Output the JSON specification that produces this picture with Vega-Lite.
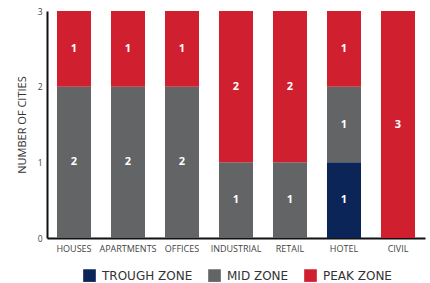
{
  "$schema": "https://vega.github.io/schema/vega-lite/v6.json",
  "autosize": {"type": "none"},
  "width": 378,
  "height": 227,
  "padding": {"left": 47, "top": 11, "right": 5, "bottom": 45},
  "background": "white",
  "config": {
    "font": "Open Sans",
    "view": {"stroke": null},
    "axis": {"grid": false, "ticks": false, "domainColor": "#111111", "domainWidth": 2, "labelColor": "#444444", "titleColor": "#333333", "labelFont": "Open Sans", "titleFont": "Open Sans"}
  },
  "data": {
    "values": [
      {"type": "HOUSES", "zone": "MID ZONE", "n": 2, "o": 2},
      {"type": "HOUSES", "zone": "PEAK ZONE", "n": 1, "o": 3},
      {"type": "APARTMENTS", "zone": "MID ZONE", "n": 2, "o": 2},
      {"type": "APARTMENTS", "zone": "PEAK ZONE", "n": 1, "o": 3},
      {"type": "OFFICES", "zone": "MID ZONE", "n": 2, "o": 2},
      {"type": "OFFICES", "zone": "PEAK ZONE", "n": 1, "o": 3},
      {"type": "INDUSTRIAL", "zone": "MID ZONE", "n": 1, "o": 2},
      {"type": "INDUSTRIAL", "zone": "PEAK ZONE", "n": 2, "o": 3},
      {"type": "RETAIL", "zone": "MID ZONE", "n": 1, "o": 2},
      {"type": "RETAIL", "zone": "PEAK ZONE", "n": 2, "o": 3},
      {"type": "HOTEL", "zone": "TROUGH ZONE", "n": 1, "o": 1},
      {"type": "HOTEL", "zone": "MID ZONE", "n": 1, "o": 2},
      {"type": "HOTEL", "zone": "PEAK ZONE", "n": 1, "o": 3},
      {"type": "CIVIL", "zone": "PEAK ZONE", "n": 3, "o": 3}
    ]
  },
  "encoding": {
    "x": {
      "field": "type", "type": "nominal", "sort": null,
      "scale": {"paddingInner": 0.37, "paddingOuter": 0.185},
      "axis": {"title": null, "labelAngle": 0, "labelFontSize": 9, "labelPadding": 6}
    },
    "y": {
      "field": "n", "type": "quantitative", "stack": "zero",
      "scale": {"domain": [0, 3], "nice": false},
      "axis": {"title": "NUMBER OF CITIES", "values": [0, 1, 2, 3], "labelFontSize": 8.5, "labelPadding": 5, "titleFontSize": 11, "titleFontWeight": "normal", "titlePadding": 10}
    },
    "order": {"field": "o", "type": "quantitative"}
  },
  "layer": [
    {
      "mark": {"type": "bar"},
      "encoding": {
        "color": {
          "field": "zone", "type": "nominal",
          "scale": {"domain": ["TROUGH ZONE", "MID ZONE", "PEAK ZONE"], "range": ["#0b2559", "#636466", "#d0202f"]},
          "legend": {
            "title": null, "orient": "none", "direction": "horizontal", "legendX": 36, "legendY": 258,
            "symbolType": "square", "symbolSize": 160, "symbolStrokeWidth": 0, "symbolOpacity": 1,
            "labelFont": "DejaVu Sans", "labelFontSize": 12, "labelColor": "#333333", "labelOffset": 6, "columnPadding": 15, "labelLimit": 200
          }
        }
      }
    },
    {
      "mark": {"type": "text", "color": "white", "fontSize": 11, "fontWeight": "bold", "baseline": "middle"},
      "encoding": {
        "y": {"field": "n", "type": "quantitative", "stack": "zero", "bandPosition": 0.5},
        "text": {"field": "n", "type": "quantitative"}
      }
    }
  ]
}
